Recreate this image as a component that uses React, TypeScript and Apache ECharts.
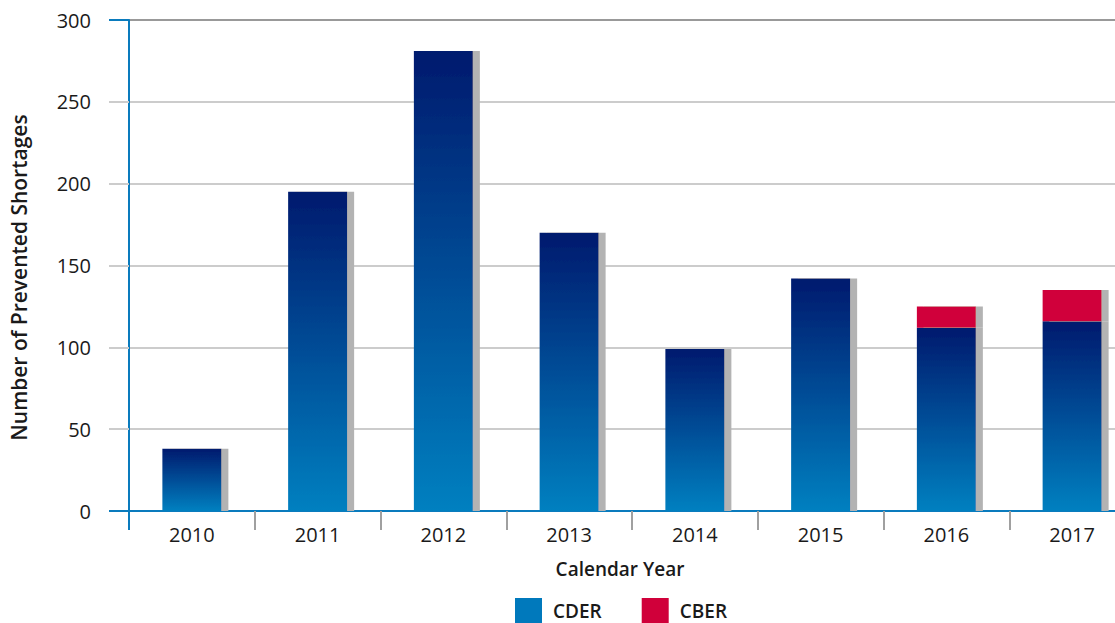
import React, { useEffect, useRef } from "react";
import * as echarts from "echarts";

const years = ["2010", "2011", "2012", "2013", "2014", "2015", "2016", "2017"];
const cderValues = [38, 195, 281, 170, 99, 142, 112, 116];
const cberValues = [0, 0, 0, 0, 0, 0, 13, 19];
const yTicks = { min: 0, max: 300, interval: 50 };

const FONT = "'Open Sans', 'Noto Sans', sans-serif";
const TEXT = "#1a1a1a";
const AXIS_BLUE = "#0a7bbd";

export default function App() {
  const ref = useRef<HTMLDivElement>(null);
  useEffect(() => {
    document.body.style.margin = "0";
    const chart = echarts.init(ref.current!, null, { renderer: "svg" });
    const cderGradient = new echarts.graphic.LinearGradient(0, 0, 0, 1, [
      { offset: 0, color: "#001a6e" },
      { offset: 1, color: "#0080c0" },
    ]);
    chart.setOption({
      animation: false,
      textStyle: { fontFamily: FONT },
      grid: { left: 129, width: 1006, top: 20, bottom: 112, containLabel: false, outerBoundsMode: "none" },
      legend: {
        left: 510,
        top: 593,
        itemWidth: 27,
        itemHeight: 25,
        itemGap: 40,
        icon: "rect",
        textStyle: { fontFamily: FONT, fontSize: 19, fontWeight: 600, color: TEXT, padding: [0, 0, 0, 6] },
        data: [
          { name: "CDER", itemStyle: { color: "#0079bc", shadowOffsetX: 0, shadowColor: "transparent" } },
          { name: "CBER", itemStyle: { color: "#d0003a", shadowOffsetX: 0, shadowColor: "transparent" } },
        ],
      },
      xAxis: {
        type: "category",
        data: years,
        name: "Calendar Year",
        nameLocation: "middle",
        nameGap: 48,
        nameTextStyle: { fontFamily: FONT, fontSize: 19, fontWeight: 600, color: TEXT, padding: [0, 24, 0, 0] },
        axisLine: { lineStyle: { color: AXIS_BLUE, width: 2 } },
        axisTick: { show: true, length: 19, lineStyle: { color: "#a0a0a0", width: 2 } },
        axisLabel: { fontFamily: FONT, fontSize: 20, color: TEXT, margin: 13 },
      },
      yAxis: {
        type: "value",
        min: yTicks.min,
        max: yTicks.max,
        interval: yTicks.interval,
        name: "Number of Prevented Shortages",
        nameLocation: "middle",
        nameGap: 100,
        nameRotate: 90,
        nameTextStyle: { fontFamily: FONT, fontSize: 21, fontWeight: 600, color: TEXT, padding: [0, 24, 0, 0] },
        axisLine: { show: true, lineStyle: { color: AXIS_BLUE, width: 2 } },
        axisTick: { show: true, length: 20, lineStyle: { color: "#cccccc", width: 2 } },
        splitLine: {
          show: true,
          lineStyle: { color: ["#cccccc", "#cccccc", "#cccccc", "#cccccc", "#cccccc", "#cccccc", "#999999"], width: 2 },
        },
        axisLabel: { fontFamily: FONT, fontSize: 20, color: TEXT, margin: 38 },
      },
      series: [
        {
          name: "CDER",
          type: "bar",
          stack: "total",
          barWidth: 59,
          data: cderValues,
          itemStyle: {
            color: cderGradient,
            shadowColor: "#b3b3b3",
            shadowOffsetX: 7,
            shadowOffsetY: 0,
            shadowBlur: 0,
          },
        },
        {
          name: "CBER",
          type: "bar",
          stack: "total",
          barWidth: 59,
          data: cberValues,
          itemStyle: {
            color: "#d0003a",
            shadowColor: "#b3b3b3",
            shadowOffsetX: 7,
            shadowOffsetY: 0,
            shadowBlur: 0,
          },
        },
      ],
    });
    const y0 = chart.convertToPixel({ yAxisIndex: 0 }, 0) as number;
    const yTop = chart.convertToPixel({ yAxisIndex: 0 }, yTicks.max) as number;
    const x0 = 129;
    chart.setOption({
      graphic: [
        { type: "line", shape: { x1: x0 - 20, y1: y0, x2: x0, y2: y0 }, style: { stroke: AXIS_BLUE, lineWidth: 2 }, z: 10 },
        { type: "line", shape: { x1: x0, y1: y0, x2: x0, y2: y0 + 19 }, style: { stroke: AXIS_BLUE, lineWidth: 2 }, z: 10 },
        { type: "line", shape: { x1: x0 - 20, y1: yTop, x2: x0, y2: yTop }, style: { stroke: AXIS_BLUE, lineWidth: 2 }, z: 10 },
      ],
    });
    return () => chart.dispose();
  }, []);
  return <div ref={ref} style={{ width: 1115, height: 623 }} />;
}
